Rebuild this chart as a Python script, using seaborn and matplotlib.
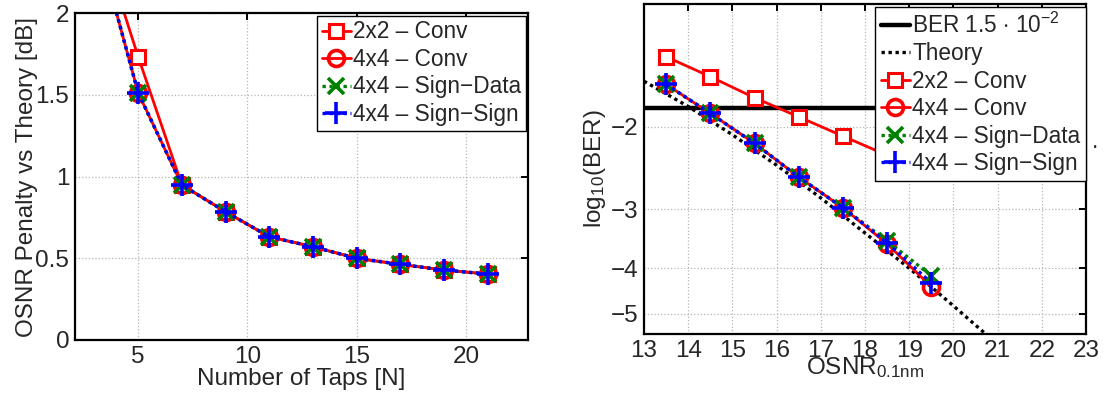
import numpy as np
import matplotlib
matplotlib.use("Agg")
import matplotlib.pyplot as plt
import seaborn as sns

# ---------------- data ----------------
taps = [3, 5, 7, 9, 11, 13, 15, 17, 19, 21]
pen_2x2_conv = [2.57, 1.734, 0.95, 0.785, 0.632, 0.571, 0.50, 0.463, 0.428, 0.404]
pen_4x4_conv = [2.50, 1.513, 0.949, 0.785, 0.632, 0.571, 0.50, 0.463, 0.428, 0.404]
pen_4x4_sign_data = [2.50, 1.513, 0.949, 0.785, 0.632, 0.571, 0.50, 0.463, 0.428, 0.404]
pen_4x4_sign_sign = [2.50, 1.513, 0.949, 0.785, 0.632, 0.571, 0.50, 0.463, 0.428, 0.404]

osnr_2x2 = [13.5, 14.5, 15.5, 16.5, 17.5, 18.5]
ber_2x2_conv = [-1.419, -1.565, -1.735, -1.905, -2.094, -2.30]
osnr = [13.5, 14.5, 15.5, 16.5, 17.5, 18.5, 19.5]
ber_4x4_conv = [-1.625, -1.873, -2.169, -2.559, -2.974, -3.55, -4.38]
ber_4x4_sign_data = [-1.625, -1.873, -2.169, -2.559, -2.974, -3.50, -4.15]
ber_4x4_sign_sign = [-1.625, -1.873, -2.169, -2.559, -2.974, -3.53, -4.30]
theory_osnr = [13, 14, 15, 16, 17, 18, 19, 20, 21]
theory_ber = [-1.600, -1.811, -2.08, -2.415, -2.835, -3.367, -4.0, -4.81, -5.81]
ber_threshold = np.log10(1.5e-2)

left_xticks = [5, 10, 15, 20]
left_yticks = [0, 0.5, 1, 1.5, 2]
left_yticklabels = ["0", "0.5", "1", "1.5", "2"]
right_xticks = list(range(13, 24))
right_yticks = [-2, -3, -4, -5]

labels = ["2x2 – Conv", "4x4 – Conv", "4x4 – Sign−Data", "4x4 – Sign−Sign"]

# ---------------- style ----------------
sns.set_theme(style="white")
plt.rcParams["font.family"] = ["Liberation Sans", "DejaVu Sans"]
plt.rcParams["mathtext.fontset"] = "custom"
plt.rcParams["mathtext.rm"] = "Liberation Sans"
plt.rcParams["mathtext.it"] = "Liberation Sans:italic"
plt.rcParams["mathtext.bf"] = "Liberation Sans:bold"

FS = 17.5
LFS = 16.3
W, H = 1111, 394
fig = plt.figure(figsize=(W / 100, H / 100), dpi=100)

def px_axes(x0, x1, ytop, ybot):
    return fig.add_axes([x0 / W, (H - ybot) / H, (x1 - x0) / W, (ybot - ytop) / H])

axL = px_axes(74.8, 528.2, 13.3, 340)
axR = px_axes(644, 1086, 4, 334.3)

dot = (0, (1, 1.1))
styles = [
    dict(color="red", linestyle="-", marker="s", markersize=10, markerfacecolor="white",
         markeredgecolor="red", markeredgewidth=2.2, linewidth=2.0),
    dict(color="red", linestyle="-", marker="o", markersize=11.5, markerfacecolor="none",
         markeredgecolor="red", markeredgewidth=2.6, linewidth=2.0),
    dict(color="green", linestyle=dot, marker="x", markersize=12,
         markeredgecolor="green", markeredgewidth=2.6, linewidth=2.4),
    dict(color="blue", linestyle=dot, marker="+", markersize=16,
         markeredgecolor="blue", markeredgewidth=2.6, linewidth=2.4),
]

def draw(ax, xs, ys, lab, st):
    sns.lineplot(x=xs, y=ys, ax=ax, label=lab, color=st["color"], sort=False, estimator=None)
    line = ax.get_lines()[-1]
    line.set(**st)
    return line

# ---------------- left panel ----------------
for ys, lab, st in zip([pen_2x2_conv, pen_4x4_conv, pen_4x4_sign_data, pen_4x4_sign_sign], labels, styles):
    draw(axL, taps, ys, lab, st)

axL.set_xlim(2.1, 22.85)
axL.set_ylim(0, 2)
axL.set_xticks(left_xticks)
axL.set_yticks(left_yticks)
axL.set_yticklabels(left_yticklabels)
axL.set_xlabel("Number of Taps [N]", fontsize=FS, labelpad=0)
axL.set_ylabel("OSNR Penalty vs Theory [dB]", fontsize=FS, labelpad=-2)

legL = axL.legend(loc="upper right", bbox_to_anchor=(0.995, 0.992), fontsize=LFS,
                  frameon=True, fancybox=False, edgecolor="black", framealpha=1,
                  handlelength=1.3, handletextpad=0.1, labelspacing=0.2,
                  borderpad=0.2, borderaxespad=0.0)
legL.get_frame().set_linewidth(1.0)

# ---------------- right panel ----------------
def fwd(y):
    y = np.asarray(y, dtype=float)
    return -np.log10(np.clip(-y, 1e-9, None))

def inv(t):
    t = np.asarray(t, dtype=float)
    return -(10.0 ** (-t))

axR.set_yscale("function", functions=(fwd, inv))
axR.axhline(ber_threshold, color="black", lw=3.2, label=r"BER 1.5 $\cdot$ 10$^{-2}$")
draw(axR, theory_osnr, theory_ber, "Theory",
     dict(color="black", linestyle=(0, (1, 1.1)), linewidth=2.4, marker=""))
for xs, ys, lab, st in zip([osnr_2x2, osnr, osnr, osnr],
                           [ber_2x2_conv, ber_4x4_conv, ber_4x4_sign_data, ber_4x4_sign_sign],
                           labels, styles):
    draw(axR, xs, ys, lab, st)

axR.set_xlim(13, 23)
axR.set_ylim(-5.53, -1.096)
axR.set_xticks(right_xticks)
axR.set_yticks(right_yticks)
axR.set_yticklabels([f"\u2212{abs(v)}" for v in right_yticks])
axR.yaxis.set_minor_locator(matplotlib.ticker.NullLocator())
axR.set_xlabel(r"OSNR$_{0.1\mathrm{nm}}$", fontsize=FS, labelpad=-5)
axR.set_ylabel(r"log$_{10}$(BER)", fontsize=FS, labelpad=2)

legR = axR.legend(loc="upper right", bbox_to_anchor=(1.0, 0.992), fontsize=LFS,
                  frameon=True, fancybox=False, edgecolor="black", framealpha=1,
                  handlelength=1.3, handletextpad=0.1, labelspacing=0.2,
                  borderpad=0.25, borderaxespad=0.0)
legR.get_frame().set_linewidth(1.0)
fig.text(1092 / W, (H - 148) / H, ".", fontsize=LFS, va="baseline", ha="left")

for ax in (axL, axR):
    ax.grid(True, linestyle=":", color="#b5b5b5", lw=0.9)
    ax.tick_params(axis="both", which="major", direction="in", top=True, right=True,
                   length=5, width=1.4, color="black", labelsize=FS, pad=4)
    for s in ax.spines.values():
        s.set_color("black")
        s.set_linewidth(1.6)

fig.savefig("out.png", dpi=100)
